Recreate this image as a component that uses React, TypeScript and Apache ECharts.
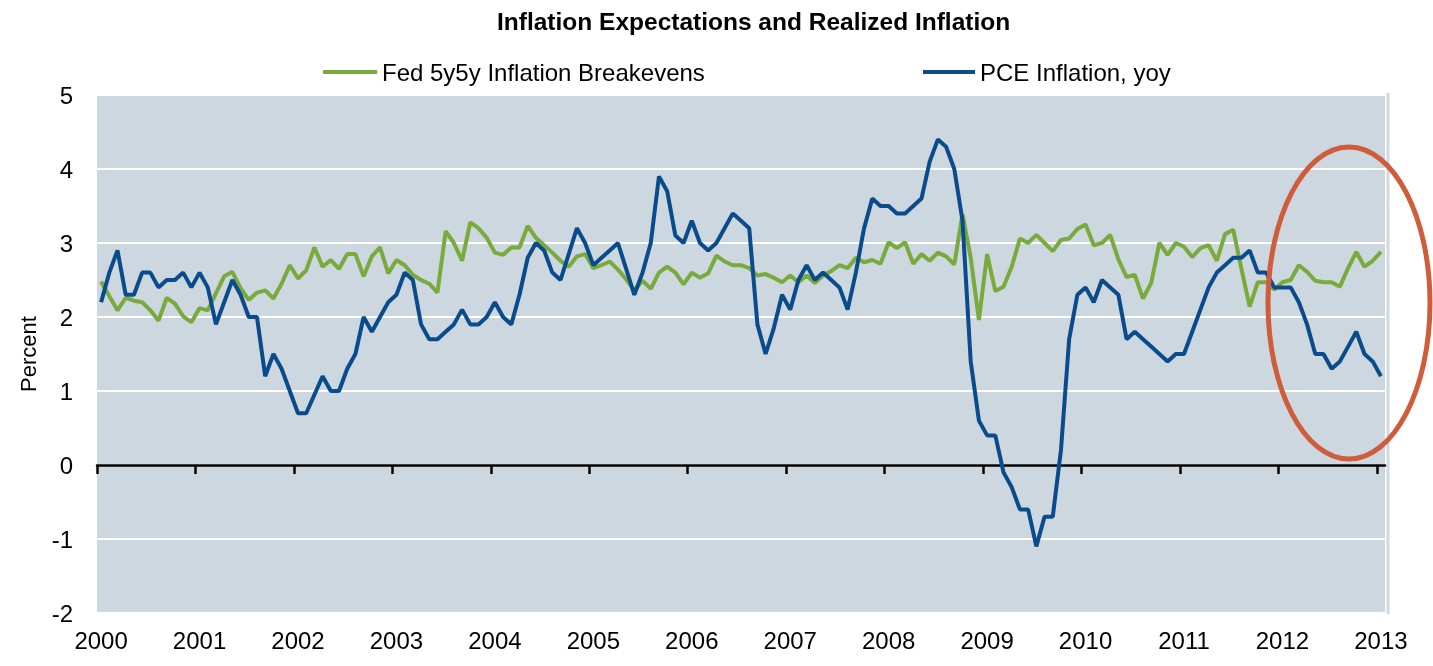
import React, { useEffect, useRef } from 'react';
import * as echarts from 'echarts';

const TITLE = 'Inflation Expectations and Realized Inflation';
const SERIES_NAMES = ['Fed 5y5y Inflation Breakevens', 'PCE Inflation, yoy'];
const YEARS = ['2000', '2001', '2002', '2003', '2004', '2005', '2006', '2007', '2008', '2009', '2010', '2011', '2012', '2013'];
const MONTHS = ['01', '02', '03', '04', '05', '06', '07', '08', '09', '10', '11', '12'];

// Monthly, Jan 2000 .. Jan 2013
const BREAKEVENS = [
  2.48, 2.28, 2.09, 2.26, 2.22, 2.20, 2.09, 1.95, 2.26, 2.18, 2.01, 1.93,
  2.12, 2.09, 2.32, 2.55, 2.61, 2.39, 2.23, 2.33, 2.36, 2.25, 2.45, 2.70,
  2.52, 2.63, 2.94, 2.68, 2.77, 2.65, 2.85, 2.85, 2.55, 2.82, 2.94, 2.59,
  2.77, 2.70, 2.57, 2.50, 2.45, 2.33, 3.16, 3.00, 2.76, 3.28, 3.20, 3.07,
  2.87, 2.84, 2.94, 2.94, 3.23, 3.07, 2.97, 2.87, 2.76, 2.68, 2.82, 2.85,
  2.66, 2.70, 2.75, 2.64, 2.51, 2.36, 2.49, 2.38, 2.60, 2.68, 2.60, 2.44,
  2.60, 2.53, 2.59, 2.83, 2.75, 2.70, 2.70, 2.66, 2.56, 2.58, 2.53, 2.47,
  2.56, 2.47, 2.56, 2.46, 2.56, 2.62, 2.70, 2.66, 2.80, 2.74, 2.77, 2.72,
  3.01, 2.93, 3.01, 2.72, 2.85, 2.76, 2.87, 2.82, 2.71, 3.39, 2.80, 1.96,
  2.85, 2.35, 2.41, 2.68, 3.06, 3.00, 3.11, 3.00, 2.89, 3.04, 3.06, 3.19,
  3.25, 2.97, 3.00, 3.11, 2.78, 2.54, 2.57, 2.25, 2.46, 3.00, 2.84, 3.00,
  2.95, 2.81, 2.93, 2.97, 2.76, 3.12, 3.18, 2.65, 2.14, 2.47, 2.47, 2.37,
  2.47, 2.50, 2.70, 2.61, 2.49, 2.47, 2.47, 2.41, 2.66, 2.88, 2.68, 2.76,
  2.88,
];

const PCE = [
  2.2, 2.6, 2.9, 2.3, 2.3, 2.6, 2.6, 2.4, 2.5, 2.5, 2.6, 2.4,
  2.6, 2.4, 1.9, 2.2, 2.5, 2.3, 2.0, 2.0, 1.2, 1.5, 1.3, 1.0,
  0.7, 0.7, 0.95, 1.2, 1.0, 1.0, 1.3, 1.5, 2.0, 1.8, 2.0, 2.2,
  2.3, 2.6, 2.5, 1.9, 1.7, 1.7, 1.8, 1.9, 2.1, 1.9, 1.9, 2.0,
  2.2, 2.0, 1.9, 2.3, 2.8, 3.0, 2.9, 2.6, 2.5, 2.85, 3.2, 3.0,
  2.7, 2.8, 2.9, 3.0, 2.65, 2.3, 2.6, 3.0, 3.9, 3.7, 3.1, 3.0,
  3.3, 3.0, 2.9, 3.0, 3.2, 3.4, 3.3, 3.2, 1.9, 1.5, 1.85, 2.3,
  2.1, 2.5, 2.7, 2.5, 2.6, 2.5, 2.4, 2.1, 2.6, 3.2, 3.6, 3.5,
  3.5, 3.4, 3.4, 3.5, 3.6, 4.1, 4.4, 4.3, 4.0, 3.3, 1.4, 0.6,
  0.4, 0.4, -0.1, -0.3, -0.6, -0.6, -1.1, -0.7, -0.7, 0.2, 1.7, 2.3,
  2.4, 2.2, 2.5, 2.4, 2.3, 1.7, 1.8, 1.7, 1.6, 1.5, 1.4, 1.5,
  1.5, 1.8, 2.1, 2.4, 2.6, 2.7, 2.8, 2.8, 2.9, 2.6, 2.6, 2.4,
  2.4, 2.4, 2.2, 1.9, 1.5, 1.5, 1.3, 1.4, 1.6, 1.8, 1.5, 1.4,
  1.2,
];

const Y_MIN = -2;
const Y_MAX = 5;
const Y_STEP = 1;

const CATEGORIES: string[] = [];
YEARS.forEach((y, yi) => {
  MONTHS.forEach((m, mi) => {
    if (yi < YEARS.length - 1 || mi === 0) CATEGORIES.push(`${y}-${m}`);
  });
});
// year boundaries (in months from the start) for the ticks on the zero line
const YEAR_TICKS = YEARS.map((_, i) => i * MONTHS.length);

const FONT = '"Liberation Sans", Arial, sans-serif';
const GREEN = '#78aa3c';
const BLUE = '#0a4b8c';

export default function App() {
  const ref = useRef<HTMLDivElement>(null);
  useEffect(() => {
    if (!ref.current) return;
    const chart = echarts.init(ref.current, null, { renderer: 'svg' });
    chart.setOption({
      animation: false,
      textStyle: { fontFamily: FONT },
      title: {
        text: TITLE,
        left: 492,
        top: 4,
        textStyle: { fontFamily: FONT, fontWeight: 'bold', fontSize: 24.5, color: '#000' },
      },
      legend: [
        {
          data: [SERIES_NAMES[0]],
          left: 318,
          top: 55,
          icon: 'rect',
          itemWidth: 54,
          itemHeight: 4,
          textStyle: { fontFamily: FONT, fontSize: 24, color: '#000' },
        },
        {
          data: [SERIES_NAMES[1]],
          left: 918,
          top: 55,
          icon: 'rect',
          itemWidth: 52,
          itemHeight: 4,
          textStyle: { fontFamily: FONT, fontSize: 24, color: '#000' },
        },
      ],
      grid: {
        left: 97,
        right: 48,
        top: 95,
        bottom: 53,
        show: true,
        backgroundColor: '#cdd7e0',
        borderWidth: 0,
        containLabel: false,
        outerBoundsMode: 'none',
      },
      xAxis: [
        {
          type: 'category',
          data: CATEGORIES,
          position: 'bottom',
          boundaryGap: true,
          axisLine: { show: false, onZero: false },
          axisTick: { show: false },
          axisLabel: {
            interval: 11,
            margin: 15,
            fontSize: 24,
            color: '#000',
            fontFamily: FONT,
            formatter: (v: string) => v.slice(0, 4),
          },
          splitLine: { show: false },
        },
        {
          type: 'value',
          min: 0,
          max: CATEGORIES.length,
          position: 'bottom',
          axisLine: { show: true, onZero: true, lineStyle: { color: '#000', width: 2.5 } },
          axisTick: {
            show: true,
            customValues: YEAR_TICKS,
            length: 9,
            lineStyle: { color: '#000', width: 2.5 },
          },
          axisLabel: { show: false },
          splitLine: { show: false },
        },
      ],
      yAxis: {
        type: 'value',
        min: Y_MIN,
        max: Y_MAX,
        interval: Y_STEP,
        name: 'Percent',
        nameLocation: 'middle',
        nameGap: 58,
        nameTextStyle: { fontFamily: FONT, fontSize: 22, color: '#000' },
        axisLine: { show: false },
        axisTick: { show: false },
        axisLabel: { margin: 24, fontSize: 24, color: '#000', fontFamily: FONT },
        splitLine: { show: true, lineStyle: { color: '#ffffff', width: 2 } },
      },
      series: [
        {
          name: SERIES_NAMES[0],
          type: 'line',
          data: BREAKEVENS,
          symbol: 'none',
          lineStyle: { color: GREEN, width: 4 },
          itemStyle: { color: GREEN },
        },
        {
          name: SERIES_NAMES[1],
          type: 'line',
          data: PCE,
          symbol: 'none',
          lineStyle: { color: BLUE, width: 4 },
          itemStyle: { color: BLUE },
        },
      ],
      graphic: [
        {
          type: 'line',
          shape: { x1: 1388, y1: 93, x2: 1388, y2: 614 },
          style: { stroke: '#cfd9e2', lineWidth: 3 },
          silent: true,
        },
        {
          type: 'ellipse',
          shape: { cx: 1349, cy: 303, rx: 81, ry: 156 },
          style: { fill: 'none', stroke: '#cf5d3b', lineWidth: 5 },
          z: 100,
          silent: true,
        },
      ],
    });
    return () => chart.dispose();
  }, []);
  return <div ref={ref} style={{ position: 'fixed', left: 0, top: 0, width: 1433, height: 666 }} />;
}
